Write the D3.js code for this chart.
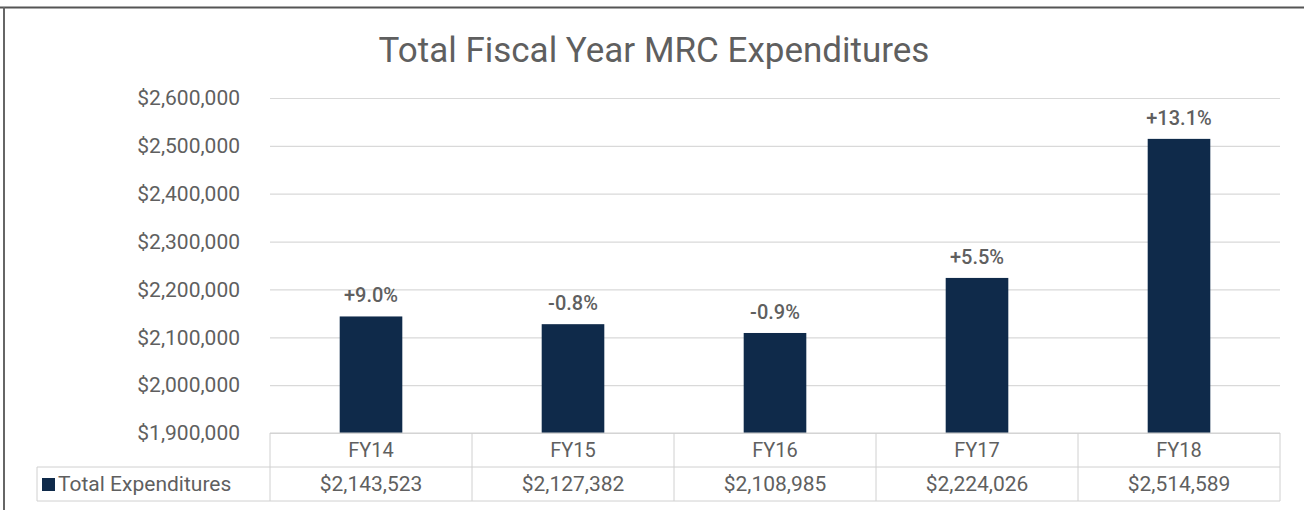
<!DOCTYPE html>
<html>
<head>
<meta charset="utf-8">
<script src="https://cdn.jsdelivr.net/npm/d3@7"></script>
<style>
  body { margin: 0; background: #fff; }
  svg { display: block; font-family: Roboto, "Noto Sans", sans-serif; }
</style>
</head>
<body>
<div id="chart"></div>
<script>
const width = 1304;
const height = 510;

// data
const years = ["FY14", "FY15", "FY16", "FY17", "FY18"];
const expenditures = [2143523, 2127382, 2108985, 2224026, 2514589];
const changes = ["+9.0%", "-0.8%", "-0.9%", "+5.5%", "+13.1%"];
const yTicks = [1900000, 2000000, 2100000, 2200000, 2300000, 2400000, 2500000, 2600000];

const margin = { top: 98, right: 24, bottom: 77, left: 270 };
const textColor = "#5f5f5f";
const barColor = "#0f2a4a";
const gridColor = "#d9d9d9";

const svg = d3
  .select("#chart")
  .append("svg")
  .attr("width", width)
  .attr("height", height);

// frame lines (top + left)
svg.append("line").attr("x1", 0).attr("x2", width).attr("y1", 7.5).attr("y2", 7.5)
  .attr("stroke", "#555").attr("stroke-width", 2);
svg.append("line").attr("x1", 4).attr("x2", 4).attr("y1", 7).attr("y2", height)
  .attr("stroke", "#666").attr("stroke-width", 2);

const x = d3
  .scaleBand()
  .domain(years)
  .range([margin.left, width - margin.right])
  .paddingInner(0.69)
  .paddingOuter(0.345);

const band = d3.scaleBand().domain(years).range([margin.left, width - margin.right]);

const y = d3
  .scaleLinear()
  .domain([1900000, 2600000])
  .range([height - margin.bottom, margin.top]);

//-----title
svg.append("text")
  .attr("x", 654)
  .attr("y", 62)
  .attr("text-anchor", "middle")
  .attr("fill", textColor)
  .style("font-size", "35px")
  .text("Total Fiscal Year MRC Expenditures");

//-----grid + y axis
const yAxis = d3
  .axisLeft(y)
  .tickValues(yTicks)
  .tickSize(-(width - margin.right - margin.left))
  .tickPadding(30)
  .tickFormat((d) => "$" + d3.format(",")(d));

svg.append("g")
  .attr("transform", `translate(${margin.left},0)`)
  .call(yAxis)
  .call((g) => g.select(".domain").remove())
  .call((g) => g.selectAll(".tick line").attr("stroke", gridColor).attr("stroke-width", 1.2))
  .call((g) => g.selectAll(".tick text")
    .attr("fill", textColor)
    .style("font-size", "21px")
    .style("font-family", "Roboto, sans-serif"));

//-----bars
svg.append("g")
  .selectAll("rect")
  .data(years)
  .join("rect")
  .attr("x", (d) => x(d))
  .attr("y", (d, i) => y(expenditures[i]))
  .attr("width", x.bandwidth())
  .attr("height", (d, i) => y(1900000) - y(expenditures[i]))
  .attr("fill", barColor);

//-----change labels
svg.append("g")
  .selectAll("text")
  .data(years)
  .join("text")
  .attr("x", (d) => x(d) + x.bandwidth() / 2)
  .attr("y", (d, i) => y(expenditures[i]) - 14)
  .attr("text-anchor", "middle")
  .attr("fill", textColor)
  .style("font-size", "20px")
  .style("font-weight", 500)
  .text((d, i) => changes[i]);

//-----data table
const tableTop = y(1900000);
const rowH = 34;
const tableLeft = 37;
const tableRight = width - margin.right;
const lineColor = "#d0d0d0";

const tbl = svg.append("g").attr("class", "table");
// horizontal lines
tbl.append("line").attr("x1", margin.left).attr("x2", tableRight)
  .attr("y1", tableTop).attr("y2", tableTop).attr("stroke", lineColor);
tbl.append("line").attr("x1", tableLeft).attr("x2", tableRight)
  .attr("y1", tableTop + rowH).attr("y2", tableTop + rowH).attr("stroke", lineColor);
tbl.append("line").attr("x1", tableLeft).attr("x2", tableRight)
  .attr("y1", tableTop + rowH * 2).attr("y2", tableTop + rowH * 2).attr("stroke", lineColor);
// vertical lines
const vlines = years.map((d) => band(d)).concat([tableRight]);
tbl.selectAll(".vl")
  .data(vlines)
  .join("line")
  .attr("x1", (d) => d).attr("x2", (d) => d)
  .attr("y1", tableTop).attr("y2", tableTop + rowH * 2)
  .attr("stroke", lineColor);
tbl.append("line").attr("x1", tableLeft).attr("x2", tableLeft)
  .attr("y1", tableTop + rowH).attr("y2", tableTop + rowH * 2).attr("stroke", lineColor);

// category labels
tbl.selectAll(".cat")
  .data(years)
  .join("text")
  .attr("x", (d) => band(d) + band.bandwidth() / 2)
  .attr("y", tableTop + rowH / 2 + 7)
  .attr("text-anchor", "middle")
  .attr("fill", textColor)
  .style("font-size", "20px")
  .text((d) => d);

// values
tbl.selectAll(".val")
  .data(years)
  .join("text")
  .attr("x", (d) => band(d) + band.bandwidth() / 2)
  .attr("y", tableTop + rowH * 1.5 + 7)
  .attr("text-anchor", "middle")
  .attr("fill", textColor)
  .style("font-size", "21px")
  .text((d, i) => "$" + d3.format(",")(expenditures[i]));

// legend key
tbl.append("rect")
  .attr("x", 42).attr("y", tableTop + rowH * 1.5 - 6)
  .attr("width", 13).attr("height", 13)
  .attr("fill", barColor);
tbl.append("text")
  .attr("x", 58)
  .attr("y", tableTop + rowH * 1.5 + 7)
  .attr("fill", textColor)
  .style("font-size", "21px")
  .text("Total Expenditures");
</script>
</body>
</html>
